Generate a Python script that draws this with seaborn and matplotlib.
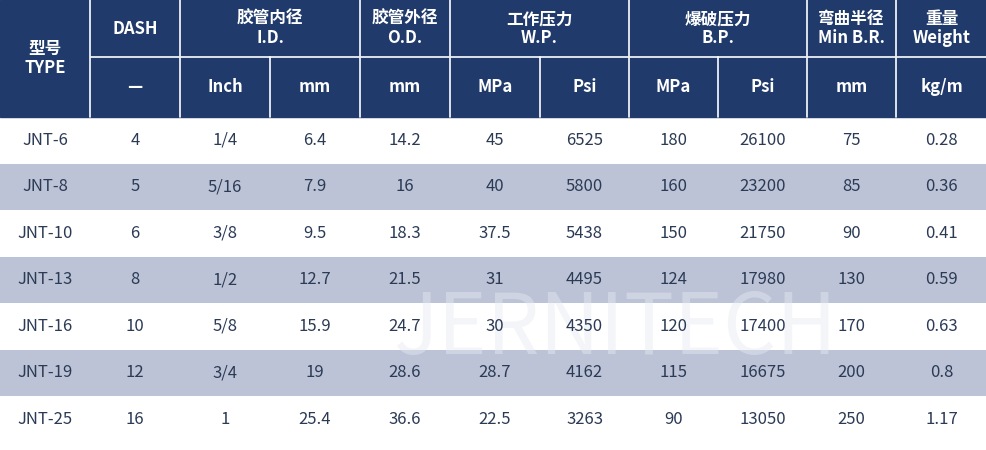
import seaborn as sns
import matplotlib.pyplot as plt
from matplotlib.patches import Rectangle

sns.set_theme(style="white")
plt.rcParams['font.family'] = ['Noto Sans CJK SC', 'DejaVu Sans']

types = ["JNT-6", "JNT-8", "JNT-10", "JNT-13", "JNT-16", "JNT-19", "JNT-25"]
dash = ["4", "5", "6", "8", "10", "12", "16"]
id_inch = ["1/4", "5/16", "3/8", "1/2", "5/8", "3/4", "1"]
id_mm = ["6.4", "7.9", "9.5", "12.7", "15.9", "19", "25.4"]
od_mm = ["14.2", "16", "18.3", "21.5", "24.7", "28.6", "36.6"]
wp_mpa = ["45", "40", "37.5", "31", "30", "28.7", "22.5"]
wp_psi = ["6525", "5800", "5438", "4495", "4350", "4162", "3263"]
bp_mpa = ["180", "160", "150", "124", "120", "115", "90"]
bp_psi = ["26100", "23200", "21750", "17980", "17400", "16675", "13050"]
min_br = ["75", "85", "90", "130", "170", "200", "250"]
weight = ["0.28", "0.36", "0.41", "0.59", "0.63", "0.8", "1.17"]
columns = [types, dash, id_inch, id_mm, od_mm, wp_mpa, wp_psi, bp_mpa, bp_psi, min_br, weight]

sub_labels = ["", "—", "Inch", "mm", "mm", "MPa", "Psi", "MPa", "Psi", "mm", "kg/m"]
top_labels = [(0, 1, "型号\nTYPE", True), (1, 1, "DASH", False), (2, 2, "胶管内径\nI.D.", False),
              (4, 1, "胶管外径\nO.D.", False), (5, 2, "工作压力\nW.P.", False),
              (7, 2, "爆破压力\nB.P.", False), (9, 1, "弯曲半径\nMin B.R.", False),
              (10, 1, "重量\nWeight", False)]

xs = [0, 90, 180, 270, 360, 450, 540, 629, 718, 807, 896, 987]
navy = "#1f3a6b"
band = "#bcc3d6"
txt = "#2b3a55"
h1, h2, rh = 57, 117, 46.5

fig = plt.figure(figsize=(9.87, 4.5), dpi=100)
ax = fig.add_axes([0, 0, 1, 1])
ax.set_xlim(0, 987)
ax.set_ylim(450, 0)
ax.axis("off")

ax.add_patch(Rectangle((0, 0), 987, h2, color=navy))
for start, span, label, full in top_labels:
    x0, x1 = xs[start], xs[start + span]
    ax.text((x0 + x1) / 2, (h2 if full else h1) / 2, label, ha="center", va="center",
            color="white", fontsize=12, linespacing=1.05, fontweight="bold")
    if not full:
        ax.plot([x0 + 1, x1 - 1], [h1, h1], color="white", lw=1.2)
for i in range(1, 11):
    full_cut = i in (1, 2, 4, 5, 7, 9, 10)
    ax.plot([xs[i], xs[i]], [0 if full_cut else h1, h2], color="white", lw=1.2)
for i in range(1, 11):
    ax.text((xs[i] + xs[i + 1]) / 2, (h1 + h2) / 2, sub_labels[i], ha="center",
            va="center", color="white", fontsize=12, fontweight="bold")

# faint watermark behind the data
ax.text(615, 330, "JERNITECH", ha="center", va="center", fontsize=60,
        color="#e6e9f0", alpha=0.45, zorder=0.5)

for r in range(len(types)):
    y0 = h2 + r * rh
    if r % 2 == 1:
        ax.add_patch(Rectangle((0, y0), 987, rh, color=band, lw=0, zorder=0.3))
    for c, col in enumerate(columns):
        ax.text((xs[c] + xs[c + 1]) / 2, y0 + rh / 2, col[r], ha="center", va="center",
                color=txt, fontsize=12)

fig.savefig("out.png", dpi=100)
